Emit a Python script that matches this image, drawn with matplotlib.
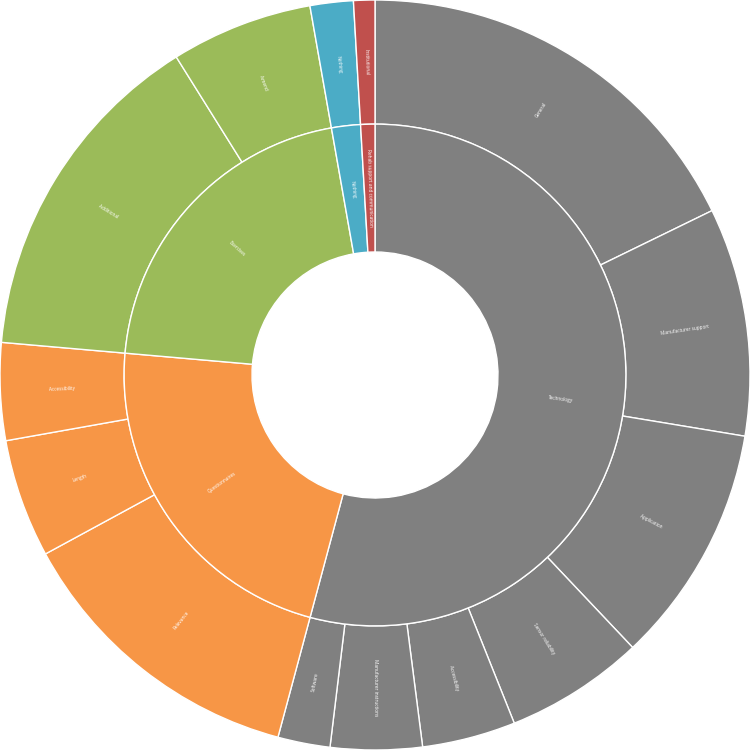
import numpy as np
import matplotlib.pyplot as plt

# inner ring: main themes
themes = ['Technology', 'Questionnaires', 'Exercises', 'Nothing',
          'Rehab support and communication']
theme_colors = ['#808080', '#F79646', '#9BBB59', '#4BACC6', '#C0504D']

# outer ring: sub-themes (in degrees of arc)
sub_labels = ['General', 'Manufacturer support', 'Application', 'Sensor reliability',
              'Accessibility', 'Manufacturer instructions', 'Software',
              'Relevance', 'Length', 'Accessibility',
              'Additional', 'Amend',
              'Nothing',
              'Institutional']
sub_values = [64.0, 35.4, 37.2, 21.6, 14.5, 14.2, 8.1,
              46.5, 18.4, 15.1,
              53.0, 22.0,
              6.7,
              3.3]
sub_parent = [0, 0, 0, 0, 0, 0, 0, 1, 1, 1, 2, 2, 3, 4]

theme_values = [sum(v for v, p in zip(sub_values, sub_parent) if p == i)
                for i in range(len(themes))]
sub_colors = [theme_colors[p] for p in sub_parent]

plt.rcParams['font.family'] = ['Open Sans', 'DejaVu Sans']

fig = plt.figure(figsize=(7.5, 7.5), dpi=100)
ax = fig.add_axes([0, 0, 1, 1])

r_out, w_out = 1.0, 0.331
r_in, w_in = 0.669, 0.341
edge = dict(edgecolor='white', linewidth=1)

outer, _ = ax.pie(sub_values, radius=r_out, colors=sub_colors, startangle=90,
                  counterclock=False, wedgeprops=dict(width=w_out, **edge))
inner, _ = ax.pie(theme_values, radius=r_in, colors=theme_colors, startangle=90,
                  counterclock=False, wedgeprops=dict(width=w_in, **edge))


def label_ring(wedges, labels, r_mid):
    for w, lab in zip(wedges, labels):
        ang = (w.theta1 + w.theta2) / 2.0
        x = r_mid * np.cos(np.radians(ang))
        y = r_mid * np.sin(np.radians(ang))
        rot = ((ang + 180) % 360) - 180
        if rot > 90:
            rot -= 180
        elif rot < -90:
            rot += 180
        ax.text(x, y, lab, rotation=rot, rotation_mode='anchor',
                ha='center', va='center', fontsize=3.4, color='white')


label_ring(outer, sub_labels, r_out - w_out / 2)
label_ring(inner, themes, r_in - w_in / 2)

ax.set_xlim(-1, 1)
ax.set_ylim(-1, 1)
ax.set_aspect('equal')
ax.axis('off')

fig.savefig('out.png', dpi=100)
